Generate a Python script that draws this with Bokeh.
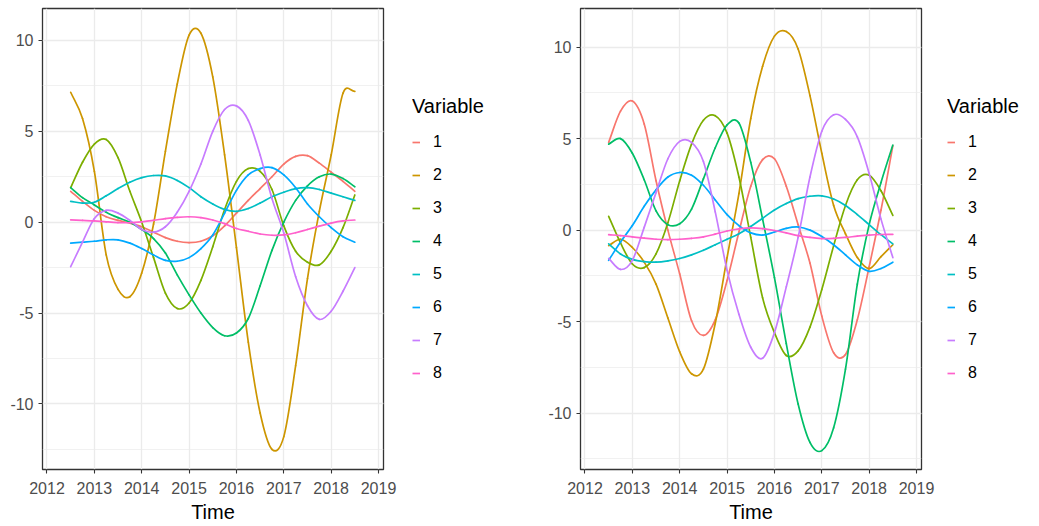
from bokeh.plotting import figure
from bokeh.models import (ColumnDataSource, Legend, LegendItem, FixedTicker,
                          SingleIntervalTicker, Range1d, CustomJSTickFormatter)
from bokeh.layouts import row
from bokeh.embed import file_html
from bokeh.resources import INLINE

# Sampling times shared by every curve
time = [2012.5, 2012.75, 2013.0, 2013.25, 2013.5, 2013.75, 2014.0, 2014.25,
        2014.5, 2014.75, 2015.0, 2015.25, 2015.5, 2015.75, 2016.0, 2016.25,
        2016.5, 2016.75, 2017.0, 2017.25, 2017.5, 2017.75, 2018.0, 2018.25,
        2018.5]

variables = ["1", "2", "3", "4", "5", "6", "7", "8"]
palette = ["#F8766D", "#CD9600", "#7CAE00", "#00BE67",
           "#00BFC4", "#00A9FF", "#C77CFF", "#FF61CC"]
year_ticks = [2012, 2013, 2014, 2015, 2016, 2017, 2018, 2019]

# Left panel
left_1 = [1.7, 1.15, 0.65, 0.3, 0.1, -0.05, -0.25, -0.55, -0.85, -1.05, -1.12, -1.05,
          -0.75, -0.2, 0.5, 1.2, 1.85, 2.5, 3.2, 3.62, 3.66, 3.25, 2.75, 2.25, 1.7]
left_2 = [7.15, 5.7, 2.8, -1.8, -3.7, -4.1, -2.8, -0.1, 3.9, 7.6, 10.3, 10.4,
          8.0, 3.7, -1.4, -6.6, -10.5, -12.5, -11.8, -7.9, -3.1, 0.6, 3.7, 7.1, 7.2]
left_3 = [1.9, 3.3, 4.3, 4.55, 3.55, 1.7, 0.0, -1.95, -3.9, -4.75, -4.45, -3.2,
          -1.35, 0.7, 2.25, 2.95, 2.8, 1.8, -0.2, -1.6, -2.2, -2.35, -1.6, -0.3, 1.5]
left_4 = [1.9, 1.35, 0.95, 0.55, 0.25, 0.0, -0.4, -0.9, -1.7, -2.9, -4.0, -5.0,
          -5.8, -6.25, -6.1, -5.3, -3.5, -1.55, 0.0, 1.2, 2.0, 2.5, 2.65, 2.4, 1.95]
left_5 = [1.15, 1.05, 1.1, 1.45, 1.85, 2.2, 2.45, 2.57, 2.55, 2.3, 1.9, 1.4,
          1.0, 0.7, 0.6, 0.75, 1.05, 1.4, 1.65, 1.85, 1.9, 1.8, 1.6, 1.4, 1.2]
left_6 = [-1.15, -1.1, -1.05, -0.97, -0.97, -1.15, -1.45, -1.8, -2.1, -2.15, -1.95, -1.45,
          -0.7, 0.5, 1.75, 2.6, 2.95, 3.0, 2.6, 1.9, 1.0, 0.3, -0.3, -0.8, -1.1]
left_7 = [-2.45, -1.1, 0.2, 0.65, 0.5, 0.1, -0.4, -0.55, -0.25, 0.55, 1.7, 3.2,
          5.0, 6.2, 6.4, 5.6, 3.7, 1.3, -0.6, -3.0, -4.6, -5.35, -4.9, -3.8, -2.5]
left_8 = [0.13, 0.1, 0.07, 0.02, -0.02, -0.03, 0.02, 0.1, 0.2, 0.27, 0.3, 0.25,
          0.12, -0.08, -0.35, -0.5, -0.65, -0.72, -0.7, -0.58, -0.4, -0.22, -0.05, 0.07, 0.12]

# Right panel
right_1 = [4.8, 6.5, 7.05, 5.8, 2.7, 0.0, -2.4, -4.95, -5.75, -4.9, -2.75, -0.1,
           2.4, 3.85, 3.9, 2.4, 0.3, -1.8, -4.7, -6.7, -6.8, -4.9, -2.0, 1.1, 4.6]
right_2 = [-0.85, -0.5, -0.95, -1.75, -2.95, -4.8, -6.65, -7.85, -7.6, -5.1, -1.5, 2.0,
           6.1, 8.95, 10.6, 10.85, 9.9, 7.35, 4.2, 1.35, -0.2, -1.5, -2.1, -1.45, -0.8]
right_3 = [0.75, -0.7, -1.85, -2.05, -1.3, 0.4, 2.7, 4.7, 6.0, 6.25, 5.3, 2.9,
           -0.4, -3.7, -5.6, -6.85, -6.6, -5.3, -3.25, -0.85, 1.35, 2.75, 3.0, 2.15, 0.8]
right_4 = [4.7, 5.0, 4.2, 2.75, 1.05, 0.3, 0.35, 1.15, 2.8, 4.5, 5.75, 5.85,
           3.7, 0.6, -2.6, -6.2, -9.5, -11.6, -12.05, -10.8, -7.6, -2.95, 0.3, 2.6, 4.65]
right_5 = [-0.75, -1.3, -1.6, -1.72, -1.75, -1.68, -1.55, -1.35, -1.1, -0.8, -0.5, -0.2,
           0.2, 0.65, 1.1, 1.45, 1.72, 1.85, 1.87, 1.7, 1.35, 0.85, 0.3, -0.25, -0.75]
right_6 = [-1.65, -0.65, 0.25, 1.3, 2.2, 2.9, 3.15, 3.0, 2.45, 1.65, 0.85, 0.25,
           -0.15, -0.27, -0.1, 0.1, 0.17, 0.0, -0.35, -0.8, -1.35, -1.9, -2.25, -2.1, -1.75]
right_7 = [-1.55, -2.15, -1.65, 0.15, 2.05, 3.9, 4.85, 4.8, 3.75, 1.0, -2.2, -4.6,
           -6.4, -7.0, -5.6, -3.1, -0.4, 2.9, 5.4, 6.3, 6.05, 5.1, 3.1, 0.6, -1.5]
right_8 = [-0.25, -0.3, -0.37, -0.44, -0.5, -0.52, -0.5, -0.45, -0.37, -0.22, -0.05, 0.07,
           0.12, 0.08, -0.02, -0.15, -0.3, -0.4, -0.46, -0.45, -0.4, -0.33, -0.27, -0.24, -0.23]

left_series = [left_1, left_2, left_3, left_4, left_5, left_6, left_7, left_8]
right_series = [right_1, right_2, right_3, right_4, right_5, right_6, right_7, right_8]

FONT = "Liberation Sans"
FRAME_W = 341
FRAME_H = 461
LINE_W = 1.7


def smooth_segments(xs, ys):
    """Catmull-Rom spline through the samples, as cubic Bezier segments."""
    n = len(xs)
    ex = [2 * xs[0] - xs[1]] + list(xs) + [2 * xs[-1] - xs[-2]]
    ey = [2 * ys[0] - ys[1]] + list(ys) + [2 * ys[-1] - ys[-2]]
    d = {k: [] for k in ("x0", "y0", "x1", "y1", "cx0", "cy0", "cx1", "cy1")}
    for i in range(1, n):
        d["x0"].append(ex[i])
        d["y0"].append(ey[i])
        d["x1"].append(ex[i + 1])
        d["y1"].append(ey[i + 1])
        d["cx0"].append(ex[i] + (ex[i + 1] - ex[i - 1]) / 6)
        d["cy0"].append(ey[i] + (ey[i + 1] - ey[i - 1]) / 6)
        d["cx1"].append(ex[i + 1] - (ex[i + 2] - ex[i]) / 6)
        d["cy1"].append(ey[i + 1] - (ey[i + 2] - ey[i]) / 6)
    return ColumnDataSource(d)


def make_panel(series, border_left, border_right, y_lo, y_hi):
    p = figure(frame_width=FRAME_W, frame_height=FRAME_H,
               x_range=Range1d(2011.905, 2019.105), y_range=Range1d(y_lo, y_hi),
               output_backend="svg", toolbar_location=None,
               min_border_left=border_left, min_border_right=border_right,
               min_border_top=8, min_border_bottom=57)
    p.background_fill_color = "white"
    p.border_fill_color = "white"
    p.outline_line_color = "#333333"
    p.outline_line_width = 1.3

    # axes
    p.xaxis.ticker = FixedTicker(ticks=year_ticks)
    p.yaxis.ticker = SingleIntervalTicker(interval=5, num_minor_ticks=2)
    p.yaxis.formatter = CustomJSTickFormatter(code="return tick.toString();")
    for ax in (p.xaxis[0], p.yaxis[0]):
        ax.axis_line_color = None
        ax.major_tick_line_color = "#333333"
        ax.major_tick_line_width = 1.1
        ax.major_tick_out = 4
        ax.major_tick_in = 0
        ax.minor_tick_line_color = None
        ax.major_label_text_font = FONT
        ax.major_label_text_font_size = "16px"
        ax.major_label_text_color = "#4D4D4D"
    p.xaxis.major_label_standoff = 8
    p.yaxis.major_label_standoff = 5
    p.xaxis.axis_label = "Time"
    p.xaxis.axis_label_text_font = FONT
    p.xaxis.axis_label_text_font_size = "20px"
    p.xaxis.axis_label_text_font_style = "normal"
    p.xaxis.axis_label_text_color = "black"
    p.xaxis.axis_label_standoff = 4

    # grid
    p.xgrid.grid_line_color = "#EBEBEB"
    p.xgrid.grid_line_width = 1.3
    p.ygrid.grid_line_color = "#EBEBEB"
    p.ygrid.grid_line_width = 1.3
    p.ygrid.minor_grid_line_color = "#EBEBEB"
    p.ygrid.minor_grid_line_width = 0.7

    for color, vals in zip(palette, series):
        p.bezier(x0="x0", y0="y0", x1="x1", y1="y1",
                 cx0="cx0", cy0="cy0", cx1="cx1", cy1="cy1",
                 source=smooth_segments(time, vals),
                 line_color=color, line_width=LINE_W, line_cap="round")
    return p


def make_legend(width):
    """Narrow canvas next to a panel that holds the 'Variable' legend."""
    g = figure(width=width, height=526, x_range=Range1d(0, 1), y_range=Range1d(0, 1),
               x_axis_type=None, y_axis_type=None, output_backend="svg",
               toolbar_location=None, min_border=0,
               min_border_left=0, min_border_right=0,
               min_border_top=0, min_border_bottom=0)
    g.outline_line_color = None
    g.background_fill_color = "white"
    g.border_fill_color = "white"
    items = []
    nan = float("nan")
    for name, color in zip(variables, palette):
        # a key-only renderer: its single point is NaN, so nothing is drawn on the canvas
        key = g.line(x=[nan], y=[nan], line_color=color, line_width=LINE_W)
        items.append(LegendItem(label=name, renderers=[key]))
    legend = Legend(items=items, title="Variable", location=(0, 86),
                    title_text_font=FONT, title_text_font_size="20px",
                    title_text_font_style="normal", title_text_color="black",
                    title_standoff=14,
                    label_text_font=FONT, label_text_font_size="16px",
                    label_text_color="black",
                    glyph_width=8, glyph_height=20, label_height=20,
                    label_standoff=13, spacing=13, padding=3, margin=0,
                    border_line_color=None, background_fill_alpha=0)
    g.add_layout(legend)
    return g


p_left = make_panel(left_series, 42, 29, -13.61, 11.76)       # 412 px wide
legend_left = make_legend(108)
p_right = make_panel(right_series, 60, 26, -13.08, 12.11)     # 427 px wide
legend_right = make_legend(92)

layout = row(p_left, legend_left, p_right, legend_right)
open("out.html", "w").write(file_html(layout, INLINE))
